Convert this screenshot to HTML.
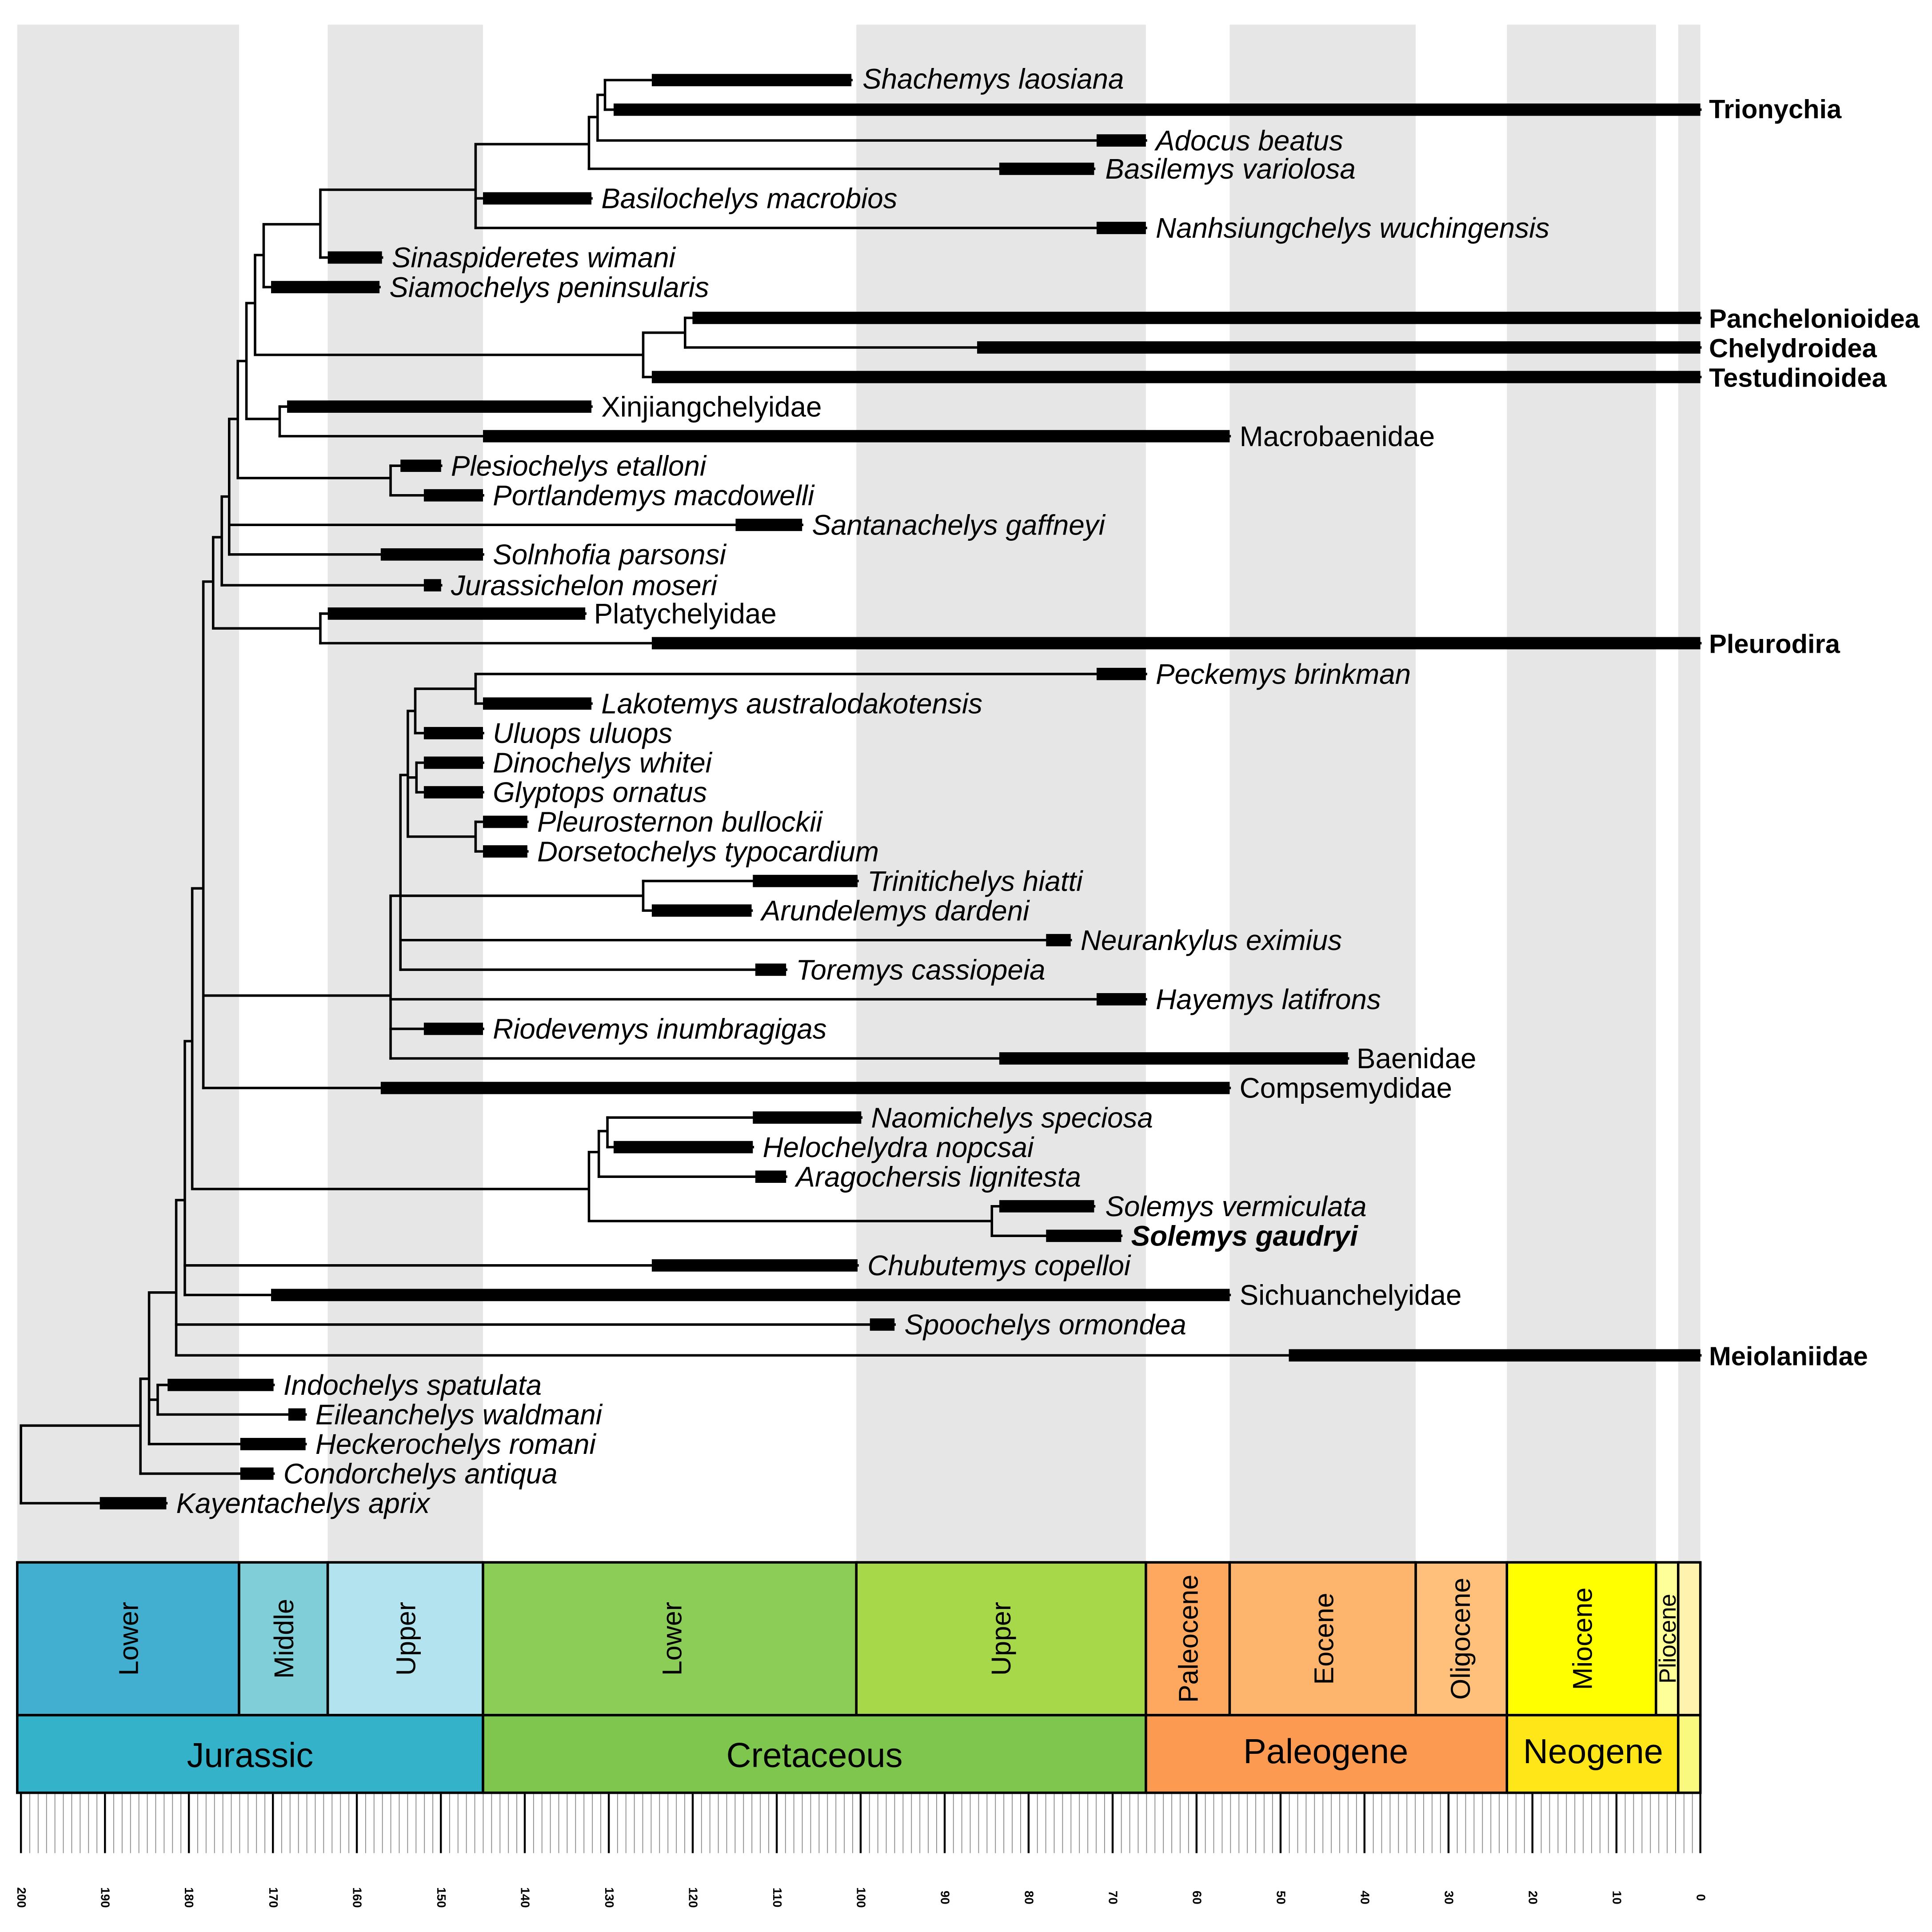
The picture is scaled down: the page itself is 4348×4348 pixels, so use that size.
<!DOCTYPE html>
<html><head><meta charset="utf-8"><style>
html,body{margin:0;padding:0;background:#fff}
svg{display:block}
text{font-family:"Liberation Sans",Arial,sans-serif;fill:#000}
.t{font-size:23px;font-style:italic}
.c{font-size:23px}
.cb{font-size:21.5px;font-weight:bold}
.ep{font-size:22px}
.pe{font-size:28px}
.tk{font-size:10px;font-weight:bold}
</style></head><body>
<svg width="4348" height="4348" viewBox="0 0 1568 1568" xmlns="http://www.w3.org/2000/svg">
<defs>
<pattern id="mt" x="17" y="0" width="6.815" height="60" patternUnits="userSpaceOnUse">
<line x1="0.3" y1="0" x2="0.3" y2="60" stroke="#888" stroke-width="0.7"/>
</pattern>
</defs>
<rect width="1568" height="1568" fill="#fff"/>
<g fill="#e6e6e6">
<rect x="14" y="20" width="180" height="1248"/>
<rect x="266" y="20" width="126" height="1248"/>
<rect x="695" y="20" width="235" height="1248"/>
<rect x="998" y="20" width="151" height="1248"/>
<rect x="1223" y="20" width="121" height="1248"/>
<rect x="1362" y="20" width="18" height="1248"/>
</g>

<g stroke="#000" stroke-width="2" fill="none" stroke-linecap="square">
<path d="M491 65H691 M491 89H1380 M485 114H930 M478 137H888 M386 161H480 M386 185H930 M260 209H310 M214 233H308 M556 258H1380 M556 282H1380 M522 306H1380 M227 330H480 M227 354H998 M317 378H358 M317 402H392 M186 426H651 M186 450H392 M180 475H358 M260 498H475 M260 522H1380 M386 547H930 M386 571H480 M337 595H392 M338 619H392 M338 643H392 M386 667H428 M386 691H428 M522 715H696 M522 739H610 M325 763H869 M325 787H638 M317 811H930 M317 835H392 M317 859H1094 M165 883H998 M493 907H699 M493 931H611 M486 955H638 M805 979H888 M805 1003H910 M150 1027H696 M150 1051H998 M143 1075H726 M143 1100H1380 M128 1124H222 M128 1148H248 M121 1172H248 M114 1196H222 M17 1220H135"/>
<path d="
M491 65V89 M485 77H491
M485 77V114 M478 95H485
M478 95V137 M386 117H478
M386 117V185 M260 154H386
M260 154V209 M214 182H260
M214 182V233 M207 207H214
M556 258V282 M522 270H556
M522 270V306 M207 288H522
M207 207V288 M200 246H207
M227 330V354 M200 340H227
M200 246V340 M193 293H200
M317 378V402 M193 388H317
M193 293V388 M186 340H193
M186 340V450 M180 403H186
M180 403V475 M173 436H180
M260 498V522 M173 510H260
M173 436V510 M165 472H173
M386 547V571 M337 559H386
M337 559V595 M331 577H337
M338 619V643 M331 631H338
M386 667V691 M331 679H386
M331 577V679 M325 629H331
M522 715V739 M317 727H522
M325 629V787
M317 727V859 M165 808H317
M165 472V883 M156 721H165
M493 907V931 M486 918H493
M486 918V955 M478 935H486
M805 979V1003 M478 991H805
M478 935V991 M156 965H478
M156 721V965 M150 845H156
M150 845V1051 M143 974H150
M143 974V1100 M121 1049H143
M128 1124V1148 M121 1136H128
M121 1049V1172 M114 1119H121
M114 1119V1196 M17 1157H114
M17 1157V1220"/>
</g>
<g fill="#000">
<rect x="529" y="60" width="162" height="10"/>
<rect x="498" y="84" width="882" height="10"/>
<rect x="890" y="109" width="40" height="10"/>
<rect x="811" y="132" width="77" height="10"/>
<rect x="392" y="156" width="88" height="10"/>
<rect x="890" y="180" width="40" height="10"/>
<rect x="266" y="204" width="44" height="10"/>
<rect x="220" y="228" width="88" height="10"/>
<rect x="562" y="253" width="818" height="10"/>
<rect x="793" y="277" width="587" height="10"/>
<rect x="529" y="301" width="851" height="10"/>
<rect x="233" y="325" width="247" height="10"/>
<rect x="392" y="349" width="606" height="10"/>
<rect x="325" y="373" width="33" height="10"/>
<rect x="344" y="397" width="48" height="10"/>
<rect x="597" y="421" width="54" height="10"/>
<rect x="309" y="445" width="83" height="10"/>
<rect x="344" y="470" width="14" height="10"/>
<rect x="266" y="493" width="209" height="10"/>
<rect x="529" y="517" width="851" height="10"/>
<rect x="890" y="542" width="40" height="10"/>
<rect x="392" y="566" width="88" height="10"/>
<rect x="344" y="590" width="48" height="10"/>
<rect x="344" y="614" width="48" height="10"/>
<rect x="344" y="638" width="48" height="10"/>
<rect x="392" y="662" width="36" height="10"/>
<rect x="392" y="686" width="36" height="10"/>
<rect x="611" y="710" width="85" height="10"/>
<rect x="529" y="734" width="81" height="10"/>
<rect x="849" y="758" width="20" height="10"/>
<rect x="613" y="782" width="25" height="10"/>
<rect x="890" y="806" width="40" height="10"/>
<rect x="344" y="830" width="48" height="10"/>
<rect x="811" y="854" width="283" height="10"/>
<rect x="309" y="878" width="689" height="10"/>
<rect x="611" y="902" width="88" height="10"/>
<rect x="498" y="926" width="113" height="10"/>
<rect x="613" y="950" width="25" height="10"/>
<rect x="811" y="974" width="77" height="10"/>
<rect x="849" y="998" width="61" height="10"/>
<rect x="529" y="1022" width="167" height="10"/>
<rect x="220" y="1046" width="778" height="10"/>
<rect x="706" y="1070" width="20" height="10"/>
<rect x="1046" y="1095" width="334" height="10"/>
<rect x="136" y="1119" width="86" height="10"/>
<rect x="234" y="1143" width="14" height="10"/>
<rect x="195" y="1167" width="53" height="10"/>
<rect x="195" y="1191" width="27" height="10"/>
<rect x="81" y="1215" width="54" height="10"/>
</g>
<g>
<text class="t" x="700" y="72">Shachemys laosiana</text>
<text class="cb" x="1387" y="96">Trionychia</text>
<text class="t" x="938" y="122">Adocus beatus</text>
<text class="t" x="897" y="145">Basilemys variolosa</text>
<text class="t" x="488" y="169">Basilochelys macrobios</text>
<text class="t" x="938" y="193">Nanhsiungchelys wuchingensis</text>
<text class="t" x="318" y="217">Sinaspideretes wimani</text>
<text class="t" x="316" y="241">Siamochelys peninsularis</text>
<text class="cb" x="1387" y="266">Panchelonioidea</text>
<text class="cb" x="1387" y="290">Chelydroidea</text>
<text class="cb" x="1387" y="314">Testudinoidea</text>
<text class="c" x="488" y="338">Xinjiangchelyidae</text>
<text class="c" x="1006" y="362">Macrobaenidae</text>
<text class="t" x="366" y="386">Plesiochelys etalloni</text>
<text class="t" x="400" y="410">Portlandemys macdowelli</text>
<text class="t" x="659" y="434">Santanachelys gaffneyi</text>
<text class="t" x="400" y="458">Solnhofia parsonsi</text>
<text class="t" x="366" y="483">Jurassichelon moseri</text>
<text class="c" x="482" y="506">Platychelyidae</text>
<text class="cb" x="1387" y="530">Pleurodira</text>
<text class="t" x="938" y="555">Peckemys brinkman</text>
<text class="t" x="488" y="579">Lakotemys australodakotensis</text>
<text class="t" x="400" y="603">Uluops uluops</text>
<text class="t" x="400" y="627">Dinochelys whitei</text>
<text class="t" x="400" y="651">Glyptops ornatus</text>
<text class="t" x="436" y="675">Pleurosternon bullockii</text>
<text class="t" x="436" y="699">Dorsetochelys typocardium</text>
<text class="t" x="704" y="723">Trinitichelys hiatti</text>
<text class="t" x="618" y="747">Arundelemys dardeni</text>
<text class="t" x="877" y="771">Neurankylus eximius</text>
<text class="t" x="646" y="795">Toremys cassiopeia</text>
<text class="t" x="938" y="819">Hayemys latifrons</text>
<text class="t" x="400" y="843">Riodevemys inumbragigas</text>
<text class="c" x="1101" y="867">Baenidae</text>
<text class="c" x="1006" y="891">Compsemydidae</text>
<text class="t" x="707" y="915">Naomichelys speciosa</text>
<text class="t" x="619" y="939">Helochelydra nopcsai</text>
<text class="t" x="646" y="963">Aragochersis lignitesta</text>
<text class="t" x="897" y="987">Solemys vermiculata</text>
<text class="t" x="918" y="1011" font-weight="bold">Solemys gaudryi</text>
<text class="t" x="704" y="1035">Chubutemys copelloi</text>
<text class="c" x="1006" y="1059">Sichuanchelyidae</text>
<text class="t" x="734" y="1083">Spoochelys ormondea</text>
<text class="cb" x="1387" y="1108">Meiolaniidae</text>
<text class="t" x="230" y="1132">Indochelys spatulata</text>
<text class="t" x="256" y="1156">Eileanchelys waldmani</text>
<text class="t" x="256" y="1180">Heckerochelys romani</text>
<text class="t" x="230" y="1204">Condorchelys antiqua</text>
<text class="t" x="143" y="1228">Kayentachelys aprix</text>
</g>

<g stroke="#000" stroke-width="2">
<rect x="14" y="1268" width="180" height="124" fill="#42aed0"/>
<rect x="194" y="1268" width="72" height="124" fill="#80cfd8"/>
<rect x="266" y="1268" width="126" height="124" fill="#b3e3ee"/>
<rect x="392" y="1268" width="303" height="124" fill="#8ccd57"/>
<rect x="695" y="1268" width="235" height="124" fill="#a6d84a"/>
<rect x="930" y="1268" width="68" height="124" fill="#fda75f"/>
<rect x="998" y="1268" width="151" height="124" fill="#fdb46c"/>
<rect x="1149" y="1268" width="74" height="124" fill="#fec07a"/>
<rect x="1223" y="1268" width="121" height="124" fill="#ffff00"/>
<rect x="1344" y="1268" width="18" height="124" fill="#ffff99"/>
<rect x="1362" y="1268" width="18" height="124" fill="#fff2ae"/>
<rect x="14" y="1392" width="378" height="63" fill="#34b2c9"/>
<rect x="392" y="1392" width="538" height="63" fill="#7fc64e"/>
<rect x="930" y="1392" width="293" height="63" fill="#fd9a52"/>
<rect x="1223" y="1392" width="139" height="63" fill="#ffe619"/>
<rect x="1362" y="1392" width="18" height="63" fill="#f9f97f"/>
</g>
<g text-anchor="middle">
<text class="ep" transform="translate(112,1330) rotate(-90)">Lower</text>
<text class="ep" transform="translate(238,1330) rotate(-90)">Middle</text>
<text class="ep" transform="translate(337,1330) rotate(-90)">Upper</text>
<text class="ep" transform="translate(553,1330) rotate(-90)">Lower</text>
<text class="ep" transform="translate(820,1330) rotate(-90)">Upper</text>
<text class="ep" transform="translate(972,1330) rotate(-90)">Paleocene</text>
<text class="ep" transform="translate(1082,1330) rotate(-90)">Eocene</text>
<text class="ep" transform="translate(1193,1330) rotate(-90)">Oligocene</text>
<text class="ep" transform="translate(1292,1330) rotate(-90)">Miocene</text>
<text style="font-size:19px" transform="translate(1360,1330) rotate(-90)">Pliocene</text>
</g>
<g text-anchor="middle">
<text class="pe" x="203" y="1434">Jurassic</text>
<text class="pe" x="661" y="1434">Cretaceous</text>
<text class="pe" x="1076" y="1431">Paleogene</text>
<text class="pe" x="1293" y="1431">Neogene</text>
</g>
<rect x="17" y="1456" width="1364" height="48" fill="url(#mt)"/>
<g stroke="#000" stroke-width="1.6">
<path d="M17 1456V1504 M85.2 1456V1504 M153.3 1456V1504 M221.5 1456V1504 M289.6 1456V1504 M357.8 1456V1504 M425.9 1456V1504 M494.1 1456V1504 M562.2 1456V1504 M630.4 1456V1504 M698.5 1456V1504 M766.7 1456V1504 M834.8 1456V1504 M903 1456V1504 M971.1 1456V1504 M1039.3 1456V1504 M1107.4 1456V1504 M1175.6 1456V1504 M1243.7 1456V1504 M1311.9 1456V1504 M1380 1456V1504"/>
</g>
<g text-anchor="middle">
<text class="tk" transform="translate(14,1540) rotate(90)">200</text>
<text class="tk" transform="translate(82,1540) rotate(90)">190</text>
<text class="tk" transform="translate(150,1540) rotate(90)">180</text>
<text class="tk" transform="translate(218.5,1540) rotate(90)">170</text>
<text class="tk" transform="translate(286.6,1540) rotate(90)">160</text>
<text class="tk" transform="translate(354.8,1540) rotate(90)">150</text>
<text class="tk" transform="translate(422.9,1540) rotate(90)">140</text>
<text class="tk" transform="translate(491.1,1540) rotate(90)">130</text>
<text class="tk" transform="translate(559.2,1540) rotate(90)">120</text>
<text class="tk" transform="translate(627.4,1540) rotate(90)">110</text>
<text class="tk" transform="translate(695.5,1540) rotate(90)">100</text>
<text class="tk" transform="translate(763.7,1540) rotate(90)">90</text>
<text class="tk" transform="translate(831.8,1540) rotate(90)">80</text>
<text class="tk" transform="translate(900,1540) rotate(90)">70</text>
<text class="tk" transform="translate(968.1,1540) rotate(90)">60</text>
<text class="tk" transform="translate(1036.3,1540) rotate(90)">50</text>
<text class="tk" transform="translate(1104.4,1540) rotate(90)">40</text>
<text class="tk" transform="translate(1172.6,1540) rotate(90)">30</text>
<text class="tk" transform="translate(1240.7,1540) rotate(90)">20</text>
<text class="tk" transform="translate(1308.9,1540) rotate(90)">10</text>
<text class="tk" transform="translate(1377,1540) rotate(90)">0</text>
</g>
</svg>
</body></html>
